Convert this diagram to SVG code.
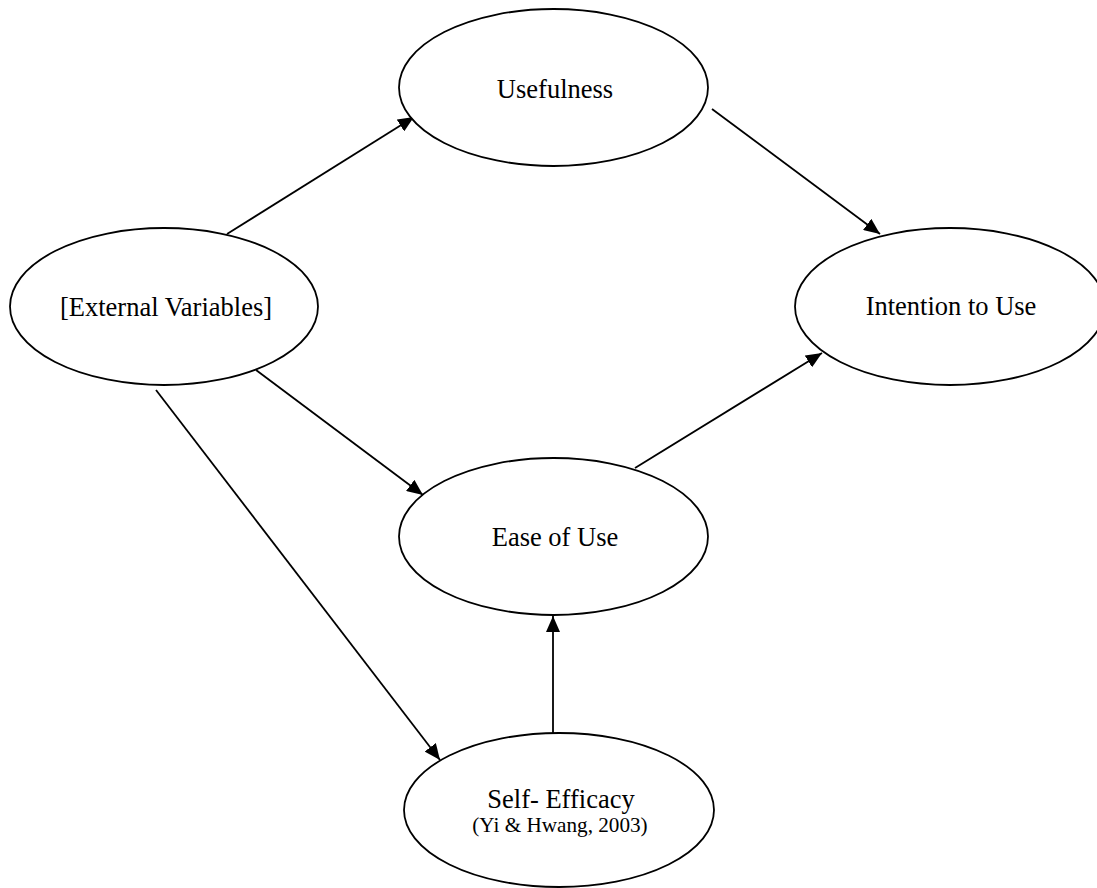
<svg xmlns="http://www.w3.org/2000/svg" width="1097" height="888" viewBox="0 0 1097 888">
<style>
.node ellipse{fill:#fff;stroke:#000;stroke-width:1.8}
.lbl{font-family:"Liberation Serif","Times New Roman",serif;font-size:26.5px;fill:#000;text-anchor:middle}
.sub{font-family:"Liberation Serif","Times New Roman",serif;font-size:21.2px;fill:#000;text-anchor:middle}
#edges line{stroke:#000;stroke-width:1.8;marker-end:url(#ah)}
</style>
<defs>
<marker id="ah" markerUnits="userSpaceOnUse" markerWidth="18" markerHeight="14" refX="16" refY="7" orient="auto">
<path d="M0,0 L16,7 L0,14 Z" fill="#000"/>
</marker>
</defs>
<rect width="1097" height="888" fill="#fff"/>
<g id="edges">
<line x1="227" y1="234" x2="414" y2="117"/>
<line x1="712" y1="109" x2="880" y2="234"/>
<line x1="256" y1="370" x2="423" y2="495"/>
<line x1="156" y1="390" x2="440" y2="760"/>
<line x1="635" y1="468" x2="822" y2="353"/>
<line x1="553" y1="733" x2="553" y2="616"/>
</g>
<g id="usefulness" class="node"><ellipse cx="553.5" cy="87.5" rx="154.5" ry="78.5"/><text class="lbl" x="555" y="98">Usefulness</text></g>
<g id="external" class="node"><ellipse cx="164" cy="306.5" rx="154" ry="78.5"/><text class="lbl" x="166" y="316">[External Variables]</text></g>
<g id="intention" class="node"><ellipse cx="950" cy="306.5" rx="155" ry="78.5"/><text class="lbl" x="951" y="315">Intention to Use</text></g>
<g id="ease" class="node"><ellipse cx="553.5" cy="536.5" rx="154.5" ry="78.5"/><text class="lbl" x="555" y="546">Ease of Use</text></g>
<g id="selfefficacy" class="node"><ellipse cx="559" cy="810" rx="155" ry="77"/><text class="lbl" x="561" y="808">Self- Efficacy</text><text class="sub" x="560" y="832">(Yi &amp; Hwang, 2003)</text></g>
</svg>
